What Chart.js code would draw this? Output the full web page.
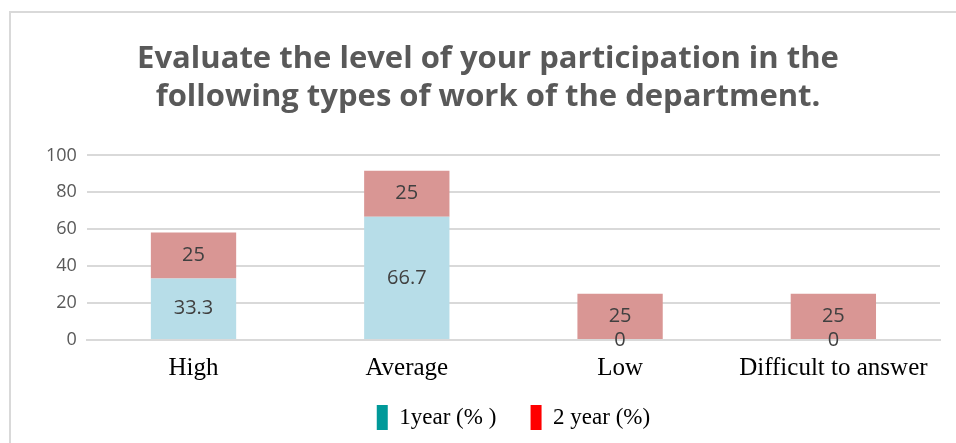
<!DOCTYPE html>
<html>
<head>
<meta charset="utf-8">
<script src="https://cdn.jsdelivr.net/npm/chart.js@4"></script>
<style>
  html, body { margin: 0; padding: 0; background: #fff; }
  #wrap { position: absolute; left: 0; top: 0; width: 956px; height: 443px; }
  #frame { position: absolute; left: 9px; top: 11px; width: 960px; height: 450px;
           border-left: 2px solid #d9d9d9; border-top: 2px solid #d9d9d9; pointer-events: none; }
</style>
</head>
<body>
<div id="wrap"><canvas id="myChart"></canvas></div>
<div id="frame"></div>
<script>
const categories = ['High', 'Average', 'Low', 'Difficult to answer'];
const year1 = [33.3, 66.7, 0, 0];
const year2 = [25, 25, 25, 25];
const seriesNames = ['1year (% )', '2 year (%)'];
const yMax = 100;
const yStep = 20;

const titleLines = ['Evaluate the level of your participation in the',
                    'following types of work of the department.'];

// draws the value in the middle of each bar segment
const valueLabels = {
  id: 'valueLabels',
  afterDatasetsDraw(chart) {
    const ctx = chart.ctx;
    ctx.save();
    ctx.font = '20px "Open Sans", sans-serif';
    ctx.fillStyle = '#404040';
    ctx.textAlign = 'center';
    ctx.textBaseline = 'middle';
    chart.data.datasets.forEach((ds, i) => {
      const meta = chart.getDatasetMeta(i);
      meta.data.forEach((bar, j) => {
        const y = (bar.y + bar.base) / 2;
        ctx.fillText(String(ds.data[j]), bar.x, y);
      });
    });
    ctx.restore();
  }
};

const ctx = document.getElementById('myChart');

let chart = new Chart(ctx, {
  type: 'bar',
  data: {
    labels: categories,
    datasets: [{
      label: seriesNames[0],
      data: year1,
      backgroundColor: '#b7dde8'
    }, {
      label: seriesNames[1],
      data: year2,
      backgroundColor: '#d99694'
    }]
  },
  options: {
    responsive: true,
    maintainAspectRatio: false,
    animation: false,
    layout: { padding: { top: 41, left: 36, right: 16, bottom: 3 } },
    datasets: { bar: { categoryPercentage: 1, barPercentage: 0.4 } },
    plugins: {
      title: {
        display: true,
        text: titleLines,
        color: '#595959',
        font: { family: '"Open Sans", sans-serif', size: 31, weight: 'bold', lineHeight: 1.2 },
        padding: { top: 0, bottom: 40 }
      },
      legend: {
        position: 'bottom',
        fullSize: false,
        labels: {
          color: '#000',
          font: { family: '"Liberation Serif", serif', size: 23 },
          boxWidth: 11,
          boxHeight: 25,
          padding: 17,
          generateLabels() {
            // trailing spaces widen the gap between the two items
            return [
              { text: seriesNames[0] + '   ', fillStyle: '#009999', strokeStyle: '#009999', lineWidth: 0, datasetIndex: 0 },
              { text: seriesNames[1], fillStyle: '#ff0000', strokeStyle: '#ff0000', lineWidth: 0, datasetIndex: 1 }
            ];
          }
        }
      },
      tooltip: { enabled: false }
    },
    scales: {
      x: {
        stacked: true,
        grid: { display: false },
        border: { display: true, color: '#d9d9d9', width: 2 },
        ticks: { color: '#000', font: { family: '"Liberation Serif", serif', size: 25 }, padding: 5 }
      },
      y: {
        stacked: true,
        min: 0,
        max: yMax,
        ticks: { stepSize: yStep, color: '#595959', font: { family: '"Open Sans", sans-serif', size: 18 }, padding: 10 },
        grid: { color: '#d9d9d9', lineWidth: 2, drawTicks: false },
        border: { display: false }
      }
    }
  },
  plugins: [valueLabels]
});
</script>
</body>
</html>
